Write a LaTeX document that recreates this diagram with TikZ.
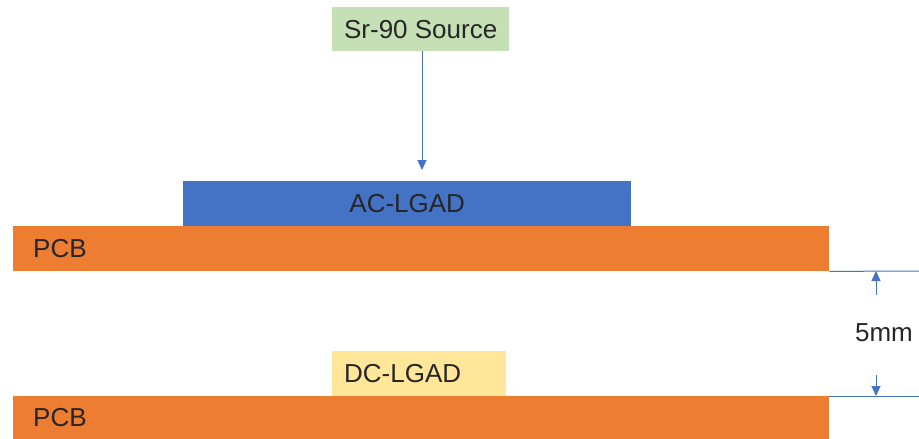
\documentclass[tikz,border=0pt]{standalone}
\usepackage{fontspec}
\setmainfont{Liberation Sans}
\usetikzlibrary{arrows.meta}
\definecolor{pcborange}{HTML}{ED7D31}
\definecolor{acblue}{HTML}{4472C4}
\definecolor{srcgreen}{HTML}{C5E0B4}
\definecolor{dcyellow}{HTML}{FFE699}
\definecolor{txtgray}{HTML}{262626}
\tikzset{
  layer/.style={draw=none, inner sep=0pt, anchor=north west, font=\fontsize{26}{30}\selectfont, text=txtgray},
  conn/.style={draw=acblue, line width=1pt},
  tip/.style={-{Triangle[width=9pt,length=10pt]}}
}
\begin{document}
\begin{tikzpicture}[x=1pt, y=-1pt]
  \fill[white] (0,0) rectangle (919,439);
  \useasboundingbox (0,0) rectangle (919,439);

  % source and beam
  \node[layer, fill=srcgreen, minimum width=177pt, minimum height=44pt] (src) at (332,7) {Sr-90 Source};
  \coordinate (hit) at (422,170);
  \draw[conn, tip] (src.south -| hit) -- (hit);

  % upper stack
  \node[layer, fill=acblue, minimum width=448pt, minimum height=45pt] (ac) at (183,181) {AC-LGAD};
  \node[layer, fill=pcborange, minimum width=816pt, minimum height=45pt,
        align=left, inner xsep=20pt, text width=776pt] (pcbA) at (13,226) {PCB};

  % lower stack
  \node[layer, fill=dcyellow, minimum width=174pt, minimum height=45pt,
        align=left, inner xsep=12pt, text width=150pt] (dc) at (332,351) {\raisebox{-2pt}{DC-LGAD}};
  \node[layer, fill=pcborange, minimum width=816pt, minimum height=43pt,
        align=left, inner xsep=20pt, text width=776pt] (pcbB) at (13,396) {PCB};

  % 5 mm spacing dimension
  \coordinate (extA) at (919,271);
  \coordinate (extB) at (919,396);
  \draw[conn] (pcbA.south east) -- (extA);
  \draw[conn] (pcbB.north east) -- (extB);
  \coordinate (dimA) at (876,271);
  \coordinate (dimB) at (876,396);
  \coordinate (dimAstart) at (876,295);
  \coordinate (dimBstart) at (876,375);
  \draw[conn, tip] (dimAstart) -- (dimA);
  \draw[conn, tip] (dimBstart) -- (dimB);
  \node[font=\fontsize{26}{30}\selectfont, text=txtgray, inner sep=0pt] (gap) at (884,333) {5mm};
\end{tikzpicture}
\end{document}
